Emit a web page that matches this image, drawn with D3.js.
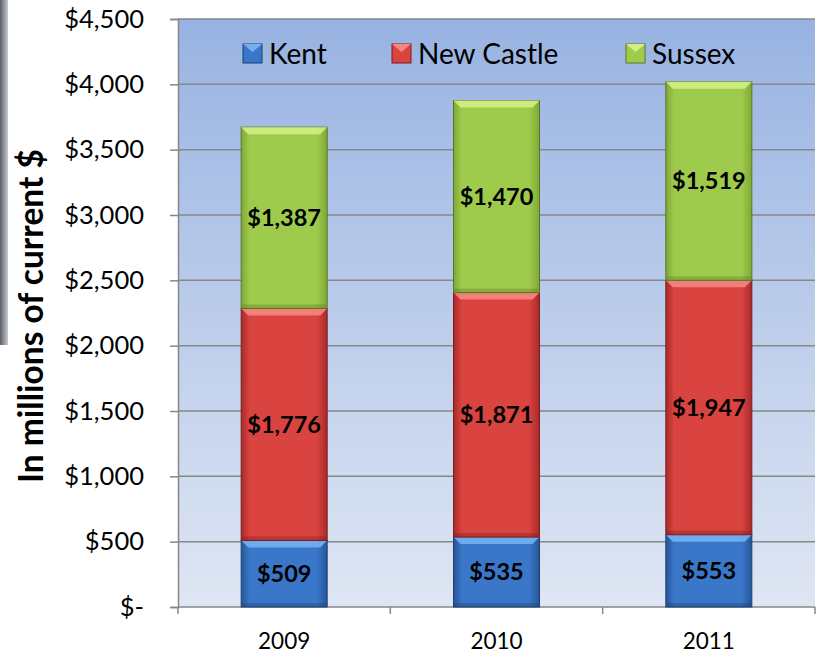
<!DOCTYPE html>
<html>
<head>
<meta charset="utf-8">
<script src="https://cdn.jsdelivr.net/npm/d3@7"></script>
<style>
  body { margin: 0; background: #fff; }
  svg { display: block; font-family: Lato, "Open Sans", sans-serif; }
</style>
</head>
<body>
<div id="chart"></div>
<script>
// chart data
var years = ["2009", "2010", "2011"];
var kent = [509, 535, 553];
var newCastle = [1776, 1871, 1947];
var sussex = [1387, 1470, 1519];
var seriesNames = ["Kent", "New Castle", "Sussex"];
var yTicks = [0, 500, 1000, 1500, 2000, 2500, 3000, 3500, 4000, 4500];

var width = 817, height = 653;
var margin = {left: 178, top: 19, right: 2, bottom: 46};

var svg = d3.select("#chart").append("svg")
    .attr("width", width)
    .attr("height", height);

var defs = svg.append("defs");

// plot background gradient
var bg = defs.append("linearGradient").attr("id", "bg")
    .attr("x1", 0).attr("y1", 0).attr("x2", 0).attr("y2", 1);
bg.append("stop").attr("offset", "0%").attr("stop-color", "#98b3e2");
bg.append("stop").attr("offset", "100%").attr("stop-color", "#dfe6f3");

// gray bar at far left
var side = defs.append("linearGradient").attr("id", "side")
    .attr("x1", 0).attr("y1", 0).attr("x2", 1).attr("y2", 0);
side.append("stop").attr("offset", "0%").attr("stop-color", "#5b5f66");
side.append("stop").attr("offset", "100%").attr("stop-color", "#c9ccd1");

var colors = {
  "Kent":       {mid: "#3a77c8", edge: "#25569a", hi: "#72b0f2", line: "#1d3f70"},
  "New Castle": {mid: "#d94340", edge: "#a92a28", hi: "#f58682", line: "#7a1d1c"},
  "Sussex":     {mid: "#9fcb4c", edge: "#7fa836", hi: "#d3ee86", line: "#5a7624"}
};

seriesNames.forEach(function(name, i) {
  var c = colors[name];
  var g = defs.append("linearGradient").attr("id", "grad" + i)
      .attr("x1", 0).attr("y1", 0).attr("x2", 1).attr("y2", 0);
  g.append("stop").attr("offset", "0%").attr("stop-color", c.edge);
  g.append("stop").attr("offset", "10%").attr("stop-color", c.mid);
  g.append("stop").attr("offset", "88%").attr("stop-color", c.mid);
  g.append("stop").attr("offset", "100%").attr("stop-color", c.edge);
});

var x = d3.scaleBand()
    .domain(years)
    .range([margin.left, width - margin.right])
    .paddingInner(0.595)
    .paddingOuter(0.2975);

var y = d3.scaleLinear()
    .domain([0, 4500])
    .range([height - margin.bottom, margin.top]);

svg.append("rect")
    .attr("x", 0).attr("y", 0)
    .attr("width", 8).attr("height", 345)
    .attr("fill", "url(#side)");

svg.append("rect")
    .attr("x", margin.left).attr("y", y(4500))
    .attr("width", width - margin.right - margin.left)
    .attr("height", y(0) - y(4500))
    .attr("fill", "url(#bg)");

// gridlines
svg.append("g").selectAll("line")
    .data(yTicks.slice(1))
    .join("line")
    .attr("x1", margin.left).attr("x2", width - margin.right)
    .attr("y1", function(d) { return y(d); })
    .attr("y2", function(d) { return y(d); })
    .attr("stroke", "#878787")
    .attr("stroke-width", 1.5);

// y axis
var yAxis = d3.axisLeft(y)
    .tickValues(yTicks)
    .tickSize(8)
    .tickFormat(function(d) { return d === 0 ? "$-   " : "$" + d3.format(",")(d); });

var ya = svg.append("g")
    .attr("transform", "translate(" + margin.left + ",0)")
    .call(yAxis);
ya.select(".domain").attr("stroke", "#878787").attr("stroke-width", 1.5);
ya.selectAll(".tick line").attr("stroke", "#878787").attr("stroke-width", 1.5);
ya.selectAll(".tick text")
    .attr("x", -34)
    .attr("font-size", 25.5)
    .attr("font-family", "Lato, sans-serif")
    .attr("fill", "#000");

// x axis
var xa = svg.append("g")
    .attr("transform", "translate(0," + y(0) + ")");
xa.append("line")
    .attr("x1", margin.left).attr("x2", width - margin.right)
    .attr("stroke", "#878787").attr("stroke-width", 1.5);
var bounds = [margin.left].concat(years.map(function(d) { return x(d) + x.bandwidth() + x.step() * x.paddingInner() / 2; }));
bounds[bounds.length - 1] = width - margin.right;
xa.selectAll(".xt").data(bounds).join("line")
    .attr("x1", function(d) { return d; }).attr("x2", function(d) { return d; })
    .attr("y1", 0).attr("y2", 7)
    .attr("stroke", "#878787").attr("stroke-width", 1.5);
xa.selectAll("text").data(years).join("text")
    .attr("x", function(d) { return x(d) + x.bandwidth() / 2; })
    .attr("y", 42)
    .attr("text-anchor", "middle")
    .attr("font-size", 22.5)
    .attr("fill", "#000")
    .text(function(d) { return d; });

// stacked bars
var rows = years.map(function(yr, i) {
  return {year: yr, "Kent": kent[i], "New Castle": newCastle[i], "Sussex": sussex[i]};
});
var stack = d3.stack().keys(seriesNames)(rows);

var bev = 7;
stack.forEach(function(layer, si) {
  var c = colors[layer.key];
  var g = svg.append("g");
  layer.forEach(function(d) {
    var x0 = x(d.data.year), w = x.bandwidth();
    var top = y(d[1]), bot = y(d[0]);
    g.append("rect")
        .attr("x", x0).attr("y", top)
        .attr("width", w).attr("height", bot - top)
        .attr("fill", "url(#grad" + si + ")")
        .attr("stroke", c.line).attr("stroke-width", 1);
    // top bevel
    g.append("path")
        .attr("d", "M" + x0 + "," + top + "L" + (x0 + w) + "," + top +
                   "L" + (x0 + w - bev) + "," + (top + bev) + "L" + (x0 + bev) + "," + (top + bev) + "Z")
        .attr("fill", c.hi)
        .attr("opacity", 0.9);
    // bottom shade
    g.append("rect")
        .attr("x", x0 + 1).attr("y", bot - 4)
        .attr("width", w - 2).attr("height", 4)
        .attr("fill", c.line).attr("opacity", 0.35);
    g.append("text")
        .attr("x", x0 + w / 2)
        .attr("y", (top + bot) / 2)
        .attr("dy", "0.35em")
        .attr("text-anchor", "middle")
        .attr("font-size", 23.5)
        .attr("font-weight", "bold")
        .attr("fill", "#000")
        .text("$" + d3.format(",")(d[1] - d[0]));
  });
});

// legend
var legendX = [243, 392, 626];
var lg = svg.append("g");
seriesNames.forEach(function(name, i) {
  var c = colors[name];
  var lx = legendX[i], ly = 44;
  lg.append("rect")
      .attr("x", lx).attr("y", ly)
      .attr("width", 19).attr("height", 19)
      .attr("fill", c.mid).attr("stroke", c.line).attr("stroke-width", 1);
  lg.append("path")
      .attr("d", "M" + lx + "," + ly + "L" + (lx + 19) + "," + ly + "L" + (lx + 9.5) + "," + (ly + 8) + "Z")
      .attr("fill", c.hi);
  lg.append("text")
      .attr("x", lx + 26).attr("y", ly + 10)
      .attr("dy", "0.35em")
      .attr("font-size", 28)
      .attr("fill", "#000")
      .text(name);
});

// y axis title
svg.append("text")
    .attr("transform", "translate(43,316) rotate(-90)")
    .attr("text-anchor", "middle")
    .attr("font-size", 33.5)
    .attr("font-weight", "bold")
    .attr("fill", "#000")
    .text("In millions of current $");
</script>
</body>
</html>
